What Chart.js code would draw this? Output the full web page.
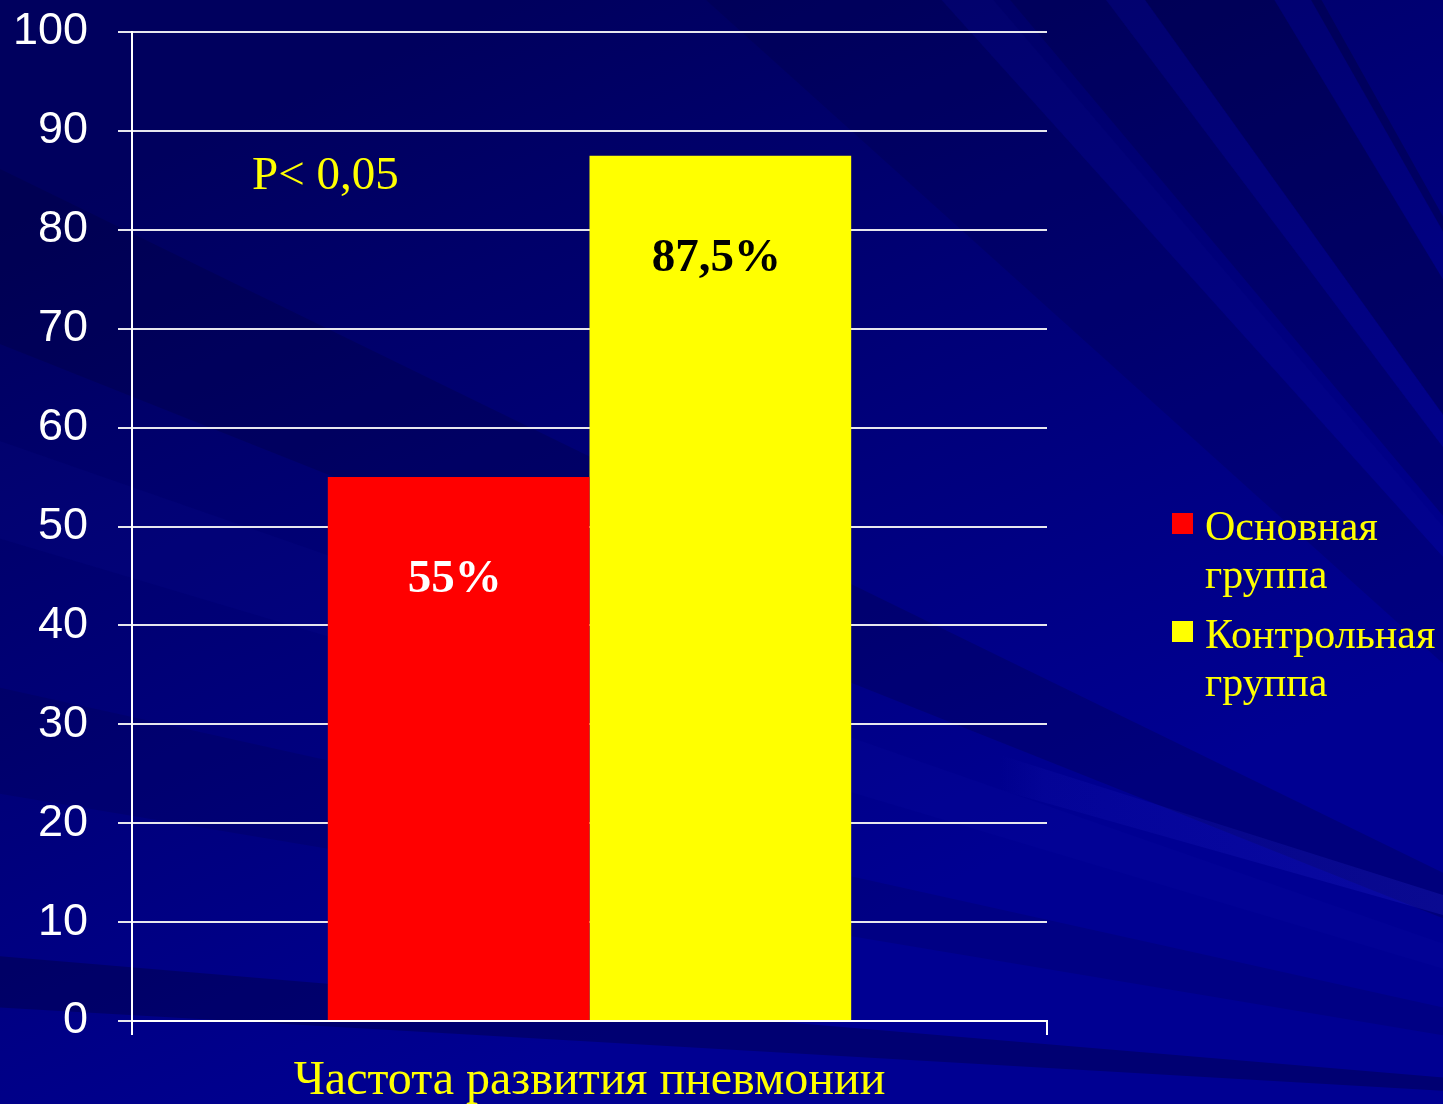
<!DOCTYPE html>
<html>
<head>
<meta charset="utf-8">
<title>Частота развития пневмонии</title>
<script src="https://cdn.jsdelivr.net/npm/chart.js@4.4.0/dist/chart.umd.min.js"></script>
<style>
  html, body { margin: 0; padding: 0; background: #000080; }
  #chart { display: block; }
</style>
</head>
<body>
<canvas id="chart" width="1443" height="1104"></canvas>
<script>
// data
const categories = ['Частота развития пневмонии'];
const groupNames = ['Основная группа', 'Контрольная группа'];
const mainGroup = [55];
const controlGroup = [87.5];
const valueLabels = [['55%'], ['87,5%']];
const yMin = 0, yMax = 100, yStep = 10;
const pNote = 'P< 0,05';

const serif = "'Liberation Serif', 'Times New Roman', serif";
const sans = "'Liberation Sans', Arial, sans-serif";

// slide background: dark blue with rays coming from beyond the lower right corner
const rays = [
  [183.3, 184.8, 'rgba(0,0,40,0.3)'],
  [189.5, 192.5, 'rgba(0,0,30,0.12)'],
  [196.6, 199.2, 'rgba(30,30,200,0.07)'],
  [201.7, 206, 'rgba(0,0,40,0.2)'],
  [222, 228, 'rgba(0,0,40,0.15)'],
  [228, 229.5, 'rgba(30,30,200,0.06)'],
  [230, 233, 'rgba(0,0,40,0.2)'],
  [233, 234.3, 'rgba(30,30,200,0.05)'],
  [234.3, 238.9, 'rgba(0,0,40,0.3)'],
  [238.9, 240.3, 'rgba(30,30,200,0.04)'],
  [240.3, 240.7, 'rgba(0,0,40,0.3)']
];

const slideBg = {
  id: 'slideBg',
  beforeDraw(chart) {
    const { ctx, width, height } = chart;
    ctx.save();
    const g = ctx.createLinearGradient(400, 50, 800, 950);
    g.addColorStop(0, '#00005e');
    g.addColorStop(1, '#000092');
    ctx.fillStyle = g;
    ctx.fillRect(0, 0, width, height);

    const cx = 1950, cy = 1120, r = 4000;
    rays.forEach(([a0, a1, col]) => {
      const t0 = a0 * Math.PI / 180, t1 = a1 * Math.PI / 180;
      ctx.beginPath();
      ctx.moveTo(cx, cy);
      ctx.lineTo(cx + r * Math.cos(t0), cy + r * Math.sin(t0));
      ctx.lineTo(cx + r * Math.cos(t1), cy + r * Math.sin(t1));
      ctx.closePath();
      ctx.fillStyle = col;
      ctx.fill();
    });

    // the pale streak on the lower right
    const s = ctx.createLinearGradient(1000, 0, 1443, 0);
    s.addColorStop(0, 'rgba(40,40,210,0)');
    s.addColorStop(0.1, 'rgba(40,40,210,0.1)');
    s.addColorStop(1, 'rgba(40,40,210,0.25)');
    ctx.beginPath();
    ctx.moveTo(1000, 755);
    ctx.lineTo(1443, 895);
    ctx.lineTo(1443, 915);
    ctx.lineTo(1000, 790);
    ctx.closePath();
    ctx.fillStyle = s;
    ctx.fill();
    ctx.restore();
  }
};

// numbers written inside the bars
const barValues = {
  id: 'barValues',
  afterDatasetsDraw(chart) {
    const { ctx } = chart;
    ctx.save();
    ctx.font = 'bold 47px ' + serif;
    ctx.textAlign = 'center';
    ctx.textBaseline = 'alphabetic';
    chart.data.datasets.forEach((ds, i) => {
      chart.getDatasetMeta(i).data.forEach((bar, j) => {
        ctx.fillStyle = ds.valueColor;
        ctx.fillText(valueLabels[i][j], bar.x - 4, bar.y + 115);
      });
    });
    ctx.restore();
  }
};

// "P< 0,05" note
const pLabel = {
  id: 'pLabel',
  afterDraw(chart) {
    const { ctx, chartArea } = chart;
    ctx.save();
    ctx.font = '47px ' + serif;
    ctx.fillStyle = '#FFFF00';
    ctx.textAlign = 'left';
    ctx.textBaseline = 'alphabetic';
    ctx.fillText(pNote, chartArea.left + 120, chartArea.top + 157);
    ctx.restore();
  }
};

// legend on the right, names wrapped over two lines
const sideLegend = {
  id: 'sideLegend',
  afterDraw(chart) {
    const { ctx } = chart;
    ctx.save();
    ctx.font = '42px ' + serif;
    ctx.textAlign = 'left';
    ctx.textBaseline = 'alphabetic';
    chart.data.datasets.forEach((ds, i) => {
      const base = 540 + i * 108;
      ctx.fillStyle = ds.backgroundColor;
      ctx.fillRect(1172, base - 27, 21, 21);
      ctx.fillStyle = '#FFFF00';
      ds.label.split(' ').forEach((line, k) => {
        ctx.fillText(line, 1205, base + k * 48);
      });
    });
    ctx.restore();
  }
};

const ctx = document.getElementById('chart').getContext('2d');
new Chart(ctx, {
  type: 'bar',
  data: {
    labels: categories,
    datasets: [
      {
        label: groupNames[0],
        data: mainGroup,
        backgroundColor: '#FF0000',
        valueColor: '#FFFFFF',
        categoryPercentage: 0.572,
        barPercentage: 1.0,
        borderWidth: 0
      },
      {
        label: groupNames[1],
        data: controlGroup,
        backgroundColor: '#FFFF00',
        valueColor: '#000000',
        categoryPercentage: 0.572,
        barPercentage: 1.0,
        borderWidth: 0
      }
    ]
  },
  options: {
    responsive: false,
    animation: false,
    layout: { padding: { top: 32, right: 396, left: 0, bottom: 0 } },
    plugins: {
      legend: { display: false },
      tooltip: { enabled: false }
    },
    scales: {
      x: {
        grid: {
          display: true,
          drawOnChartArea: false,
          drawTicks: true,
          tickLength: 14,
          color: '#FFFFFF',
          lineWidth: 2,
          offset: true
        },
        border: { display: true, color: '#FFFFFF', width: 2 },
        ticks: {
          color: '#FFFF00',
          font: { family: serif, size: 48 },
          padding: 18
        },
        afterFit: s => { s.height = 83; }
      },
      y: {
        min: yMin,
        max: yMax,
        ticks: {
          stepSize: yStep,
          color: '#FFFFFF',
          font: { family: sans, size: 45 },
          padding: 30
        },
        grid: { color: '#E6E6EE', lineWidth: 2, tickLength: 14 },
        border: { display: true, color: '#FFFFFF', width: 2 },
        afterFit: s => {
          s.width = 132;
          s.paddingTop = 0;
          s.paddingBottom = 0;
        }
      }
    }
  },
  plugins: [slideBg, barValues, pLabel, sideLegend]
});
</script>
</body>
</html>
